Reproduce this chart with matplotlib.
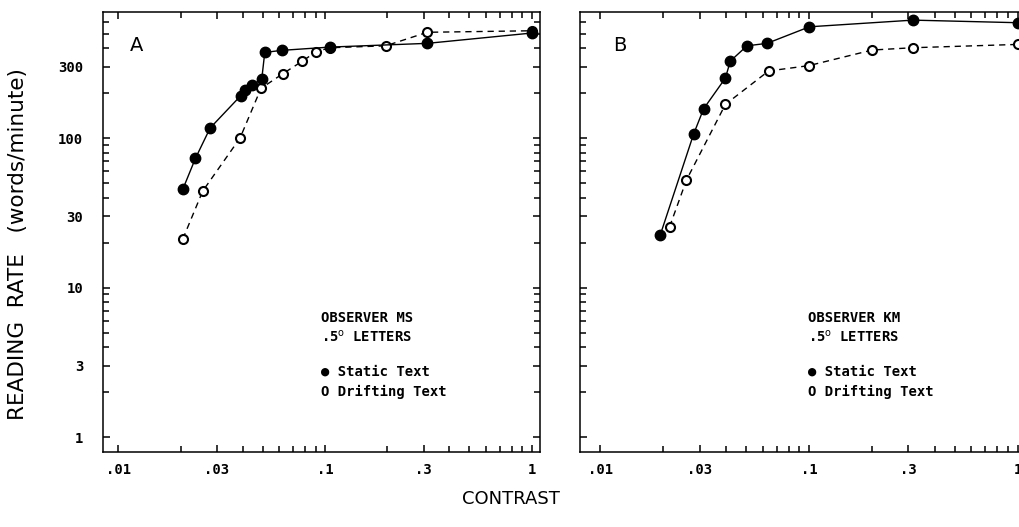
import matplotlib
matplotlib.use("Agg")
import matplotlib.pyplot as plt
from matplotlib.ticker import FixedLocator, FixedFormatter, NullFormatter

# ---------------- data ----------------
# Panel A, observer MS
a_static_x = [0.0205, 0.0236, 0.0278, 0.0391, 0.0412, 0.0442, 0.0494, 0.0511, 0.0617, 0.1057, 0.3126, 1.0]
a_static_y = [45.4, 73.1, 116.7, 192, 209.6, 226, 247, 374, 386, 406, 430, 504]
a_drift_x = [0.0205, 0.0256, 0.0388, 0.049, 0.0624, 0.0777, 0.0905, 0.1057, 0.1966, 0.3126, 1.0]
a_drift_y = [21.1, 44.2, 100, 215, 269, 327, 378, 402, 414, 510, 522]

# Panel B, observer KM
b_static_x = [0.0194, 0.028, 0.0313, 0.0398, 0.042, 0.0505, 0.063, 0.1006, 0.315, 1.0]
b_static_y = [22.5, 106, 157, 252, 327, 414, 430, 555, 615, 591]
b_drift_x = [0.0215, 0.0259, 0.0398, 0.0641, 0.0998, 0.201, 0.315, 1.0]
b_drift_y = [25.5, 52.4, 168, 281, 305, 388, 402, 423]

x_major = [0.01, 0.03, 0.1, 0.3, 1]
x_major_labels = [".01", ".03", ".1", ".3", "1"]
x_minor = [0.02, 0.04, 0.05, 0.06, 0.07, 0.08, 0.09, 0.2, 0.4, 0.5, 0.6, 0.7, 0.8, 0.9]
y_major = [1, 3, 10, 30, 100, 300]
y_major_labels = ["1", "3", "10", "30", "100", "300"]
y_minor = [2, 4, 5, 6, 7, 8, 9, 20, 40, 50, 60, 70, 80, 90, 200, 400, 500, 600]

W, H = 1020, 527
fig = plt.figure(figsize=(W / 100, H / 100), dpi=100)
fig.patch.set_facecolor("white")

mono = ["DejaVu Sans Mono", "DejaVu Sans"]


def px(x0, y0, x1, y1):
    return [x0 / W, 1 - y1 / H, (x1 - x0) / W, (y1 - y0) / H]


axA = fig.add_axes(px(102.7, 12, 540, 452))
axB = fig.add_axes(px(580, 12, 1026, 452))


def style(ax, xlim, show_ylabels):
    ax.set_xscale("log")
    ax.set_yscale("log")
    ax.set_xlim(*xlim)
    ax.set_ylim(0.794, 697)
    ax.xaxis.set_major_locator(FixedLocator(x_major))
    ax.xaxis.set_major_formatter(FixedFormatter(x_major_labels))
    ax.xaxis.set_minor_locator(FixedLocator(x_minor))
    ax.xaxis.set_minor_formatter(NullFormatter())
    ax.yaxis.set_major_locator(FixedLocator(y_major))
    if show_ylabels:
        ax.yaxis.set_major_formatter(FixedFormatter(y_major_labels))
    else:
        ax.yaxis.set_major_formatter(NullFormatter())
    ax.yaxis.set_minor_locator(FixedLocator(y_minor))
    ax.yaxis.set_minor_formatter(NullFormatter())
    ax.tick_params(which="both", direction="in", top=True, right=True,
                   width=1.1, color="black")
    ax.tick_params(which="major", length=5)
    ax.tick_params(which="minor", length=4)
    ax.tick_params(axis="x", which="major", pad=8)
    ax.tick_params(axis="y", which="major", pad=14)
    for lab in ax.get_xticklabels() + ax.get_yticklabels():
        lab.set_fontfamily(mono)
        lab.set_fontsize(10)
        lab.set_fontweight("bold")
    for s in ax.spines.values():
        s.set_linewidth(1.1)


def draw(ax, sx, sy, dx, dy):
    ax.plot(dx, dy, color="black", lw=1.0, dashes=(4.5, 3.5),
            marker="o", ms=6.5, mfc="white", mec="black", mew=1.5, zorder=3)
    ax.plot(sx, sy, color="black", lw=1.0, ls="-",
            marker="o", ms=7.5, mfc="black", mec="black", zorder=4)


style(axA, (0.0084, 1.097), True)
style(axB, (0.0080, 1.097), False)
draw(axA, a_static_x, a_static_y, a_drift_x, a_drift_y)
draw(axB, b_static_x, b_static_y, b_drift_x, b_drift_y)


def ftext(x, y, s, **kw):
    fig.text(x / W, 1 - y / H, s, **kw)


ftext(137, 45, "A", fontsize=14, ha="center", va="center")
ftext(620, 45, "B", fontsize=14, ha="center", va="center")

for x0, obs in [(321, "OBSERVER MS"), (808, "OBSERVER KM")]:
    kw = dict(family=mono, fontsize=10, fontweight="bold", ha="left", va="center")
    ftext(x0, 318, obs, **kw)
    ftext(x0, 337, ".5$^\\mathrm{o}$ LETTERS", **kw)
    ftext(x0, 372, "\u25cf Static Text", **kw)
    ftext(x0, 392, "O Drifting Text", **kw)

ftext(18, 244, "READING  RATE   (words/minute)", fontsize=15.5, rotation=90,
      ha="center", va="center")
ftext(511, 499, "CONTRAST", fontsize=13, ha="center", va="center")

fig.savefig("out.png", dpi=100, facecolor="white")
